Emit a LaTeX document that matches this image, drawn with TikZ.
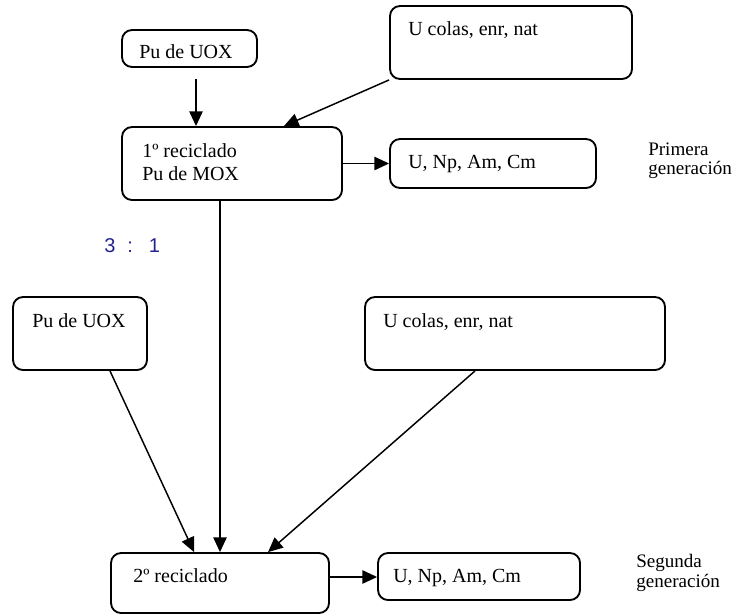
\documentclass[tikz,border=0pt]{standalone}
\usepackage{fontspec}
\setmainfont{Liberation Serif}
\newfontfamily\ratiofont{Liberation Sans}
\usetikzlibrary{arrows.meta,fit}
\definecolor{ratioblue}{RGB}{35,35,140}
\tikzset{
  box/.style={draw,line width=1.4pt,rounded corners=7.5pt,inner sep=0pt},
  lbl/.style={anchor=base west,inner sep=0pt,font=\fontsize{15}{17}\selectfont},
  genlbl/.style={anchor=base west,inner sep=0pt,font=\fontsize{14.3}{16}\selectfont},
  flow/.style={line width=1.1pt,-{Triangle[length=11pt,width=10pt]}},
}
\begin{document}
\begin{tikzpicture}[x=0.75pt,y=-0.75pt]
\useasboundingbox (0,0) rectangle (738,614);

% first generation
\node[box,fit={(122,30) (257,67)}] (puA) {};
\node[lbl] (puAt) at (139,58) {Pu de UOX};
\node[box,fit={(390,6) (632,79)}] (ucA) {};
\node[lbl] (ucAt) at (408,35) {U colas, enr, nat};
\node[box,fit={(122,127) (342,200)}] (recA) {};
\node[lbl] (recAt1) at (142,157) {1º reciclado};
\node[lbl] (recAt2) at (142,180) {Pu de MOX};
\node[box,fit={(390,139) (596,188)}] (minA) {};
\node[lbl] (minAt) at (408,168) {U, Np, Am, Cm};
\node[genlbl] (genA1) at (648,155) {Primera};
\node[genlbl] (genA2) at (648,174) {generación};

\node[anchor=base west,inner sep=0pt,text=ratioblue,font=\ratiofont\fontsize{15}{17}\selectfont] (ratio) at (104,252) {3\hspace{9pt}:\hspace{12pt}1};

% second generation
\node[box,fit={(13,297) (147,370)}] (puB) {};
\node[lbl] (puBt) at (32,327) {Pu de UOX};
\node[box,fit={(365,297) (665,370)}] (ucB) {};
\node[lbl] (ucBt) at (383,327) {U colas, enr, nat};
\node[box,fit={(111,553) (329,613)}] (recB) {};
\node[lbl] (recBt) at (133,582) {2º reciclado};
\node[box,fit={(378,553) (580,600)}] (minB) {};
\node[lbl] (minBt) at (393,582) {U, Np, Am, Cm};
\node[genlbl] (genB1) at (636,567) {Segunda};
\node[genlbl] (genB2) at (636,587) {generación};

% connector end points placed along the box edges
\path (puA.south) ++(6.5,11) coordinate (a1s);
\path (recA.north east) ++(-59,0) coordinate (a2e);
\path (recA.south) ++(-12,0) coordinate (a4s);
\path (puB.south) ++(30,0) coordinate (a5s);
\path (recB.north west) ++(84,0) coordinate (a5e);
\path (ucB.south) ++(-40,0) coordinate (a6s);
\path (recB.north west) ++(158,0) coordinate (a6e);
\path (recB.east) ++(0,-6) coordinate (a7s);

\draw[flow] (a1s) -- (a1s |- recA.north);
\draw[flow] (ucA.south west) -- (a2e);
\draw[flow] (recA.east) -- (recA.east -| minA.west);
\draw[flow] (a4s) -- (a4s |- recB.north);
\draw[flow] (a5s) -- (a5e);
\draw[flow] (a6s) -- (a6e);
\draw[flow] (a7s) -- (a7s -| minB.west);
\end{tikzpicture}
\end{document}
